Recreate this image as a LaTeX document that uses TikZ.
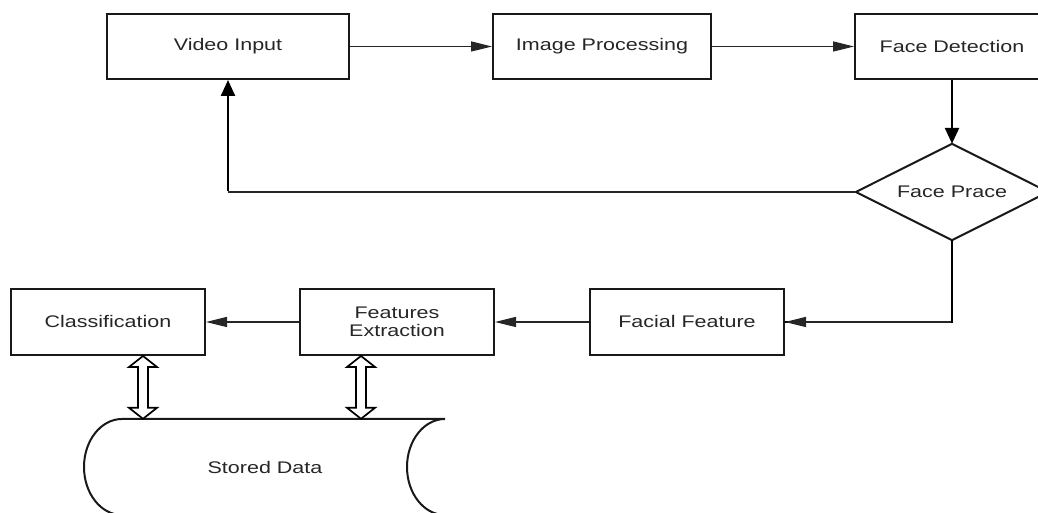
\documentclass[tikz,border=0pt]{standalone}
\usepackage{fontspec}
\setmainfont{Liberation Sans}[FakeStretch=1.28]
\usetikzlibrary{arrows.meta,calc,shapes.geometric}
\begin{document}
\begin{tikzpicture}[x=1pt,y=1pt,
  lbl/.style={font=\fontsize{16.8}{17.5}\selectfont,text=black!85},
  box/.style={lbl,draw=black!90,line width=2pt,rectangle,minimum height=65pt,inner sep=0pt,align=center},
  decision/.style={lbl,rectangle,minimum width=192pt,minimum height=96pt,inner sep=0pt},
  outline/.style={draw=black!90,line width=2pt,line join=miter},
  conn/.style={draw=black!85,line width=1.3pt,-{Triangle[length=21pt,width=10pt]}},
  vconn/.style={draw=black,line width=2.4pt,-{Triangle[length=16pt,width=14pt]}},
  hollow/.style={draw=black,line width=1.7pt,line join=miter,fill=white}]
\useasboundingbox (0,0) rectangle (1038,513);
\clip (0,0) rectangle (1038,513);
% top row
\node[box,minimum width=242pt] (vin) at (228,466.5) {Video Input};
\node[box,minimum width=218pt] (imp) at (602,466.5) {Image Processing};
\node[box,minimum width=194pt] (fd) at (952,466.5) {Face Detection};
\node[decision] (dia) at (952,321) {Face Prace};
\draw[outline] (dia.north) -- (dia.east) -- (dia.south) -- (dia.west) -- cycle;
% bottom row
\node[box,minimum width=194pt,minimum height=66pt] (ff) at (687,191) {Facial Feature};
\node[box,minimum width=194pt,minimum height=66pt] (fe) at (397,191) {Features\\Extraction};
\node[box,minimum width=194pt,minimum height=66pt] (cls) at (108,191) {Classification};
% stored data
\node[lbl,rectangle,minimum width=361pt,minimum height=96pt,inner sep=0pt] (db) at (265,46) {Stored Data};
\draw[outline,line join=round] (445,94) -- (122,94) arc[start angle=90,end angle=270,x radius=38,y radius=48]
  -- (445,-2) arc[start angle=270,end angle=90,x radius=38,y radius=48];
% connectors
\draw[conn] (vin.east) -- (imp.west);
\draw[conn] (imp.east) -- (fd.west);
\draw[vconn] (fd.south) -- (dia.north);
\draw[draw=black!85,line width=1.3pt] (dia.west) -- (228,321);
\draw[vconn] (228,322) -- (vin.south);
\draw[line width=2.4pt] (dia.south) |- (ff.east);
\draw[conn] ([xshift=-1pt]dia.south |- ff.east) -- (ff.east);
\draw[conn] (ff.west) -- (fe.east);
\draw[conn] (fe.west) -- (cls.east);
% hollow double arrows
\path ($(cls.south)+(35,0)$) coordinate (h1t);
\path (h1t |- db.north) coordinate (h1b);
\path ($(fe.south)+(-36,0)$) coordinate (h2t);
\path (h2t |- db.north) coordinate (h2b);
\foreach \t/\b in {h1t/h1b,h2t/h2b}{
  \draw[hollow] let \p1=(\t),\p2=(\b) in (\p1) -- (\x1+14,\y1-11) -- (\x1+5,\y1-11) -- (\x1+5,\y2+11) -- (\x1+14,\y2+11) -- (\p2) -- (\x1-14,\y2+11) -- (\x1-5,\y2+11) -- (\x1-5,\y1-11) -- (\x1-14,\y1-11) -- cycle;
}
\end{tikzpicture}
\end{document}
